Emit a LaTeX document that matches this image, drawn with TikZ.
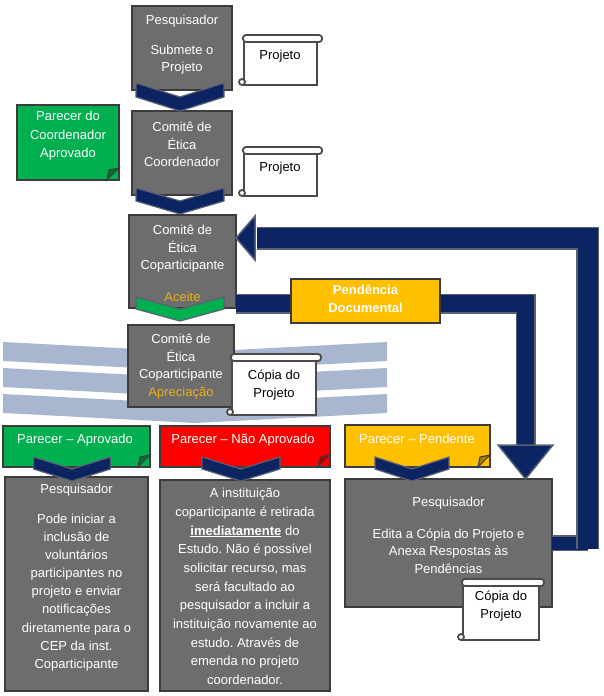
\documentclass[tikz,border=0pt]{standalone}
\usepackage{fontspec}
\setmainfont{Liberation Sans}
\usetikzlibrary{shapes.misc,calc}
\frenchspacing

\definecolor{boxgray}{HTML}{6D6D6D}
\definecolor{boxline}{HTML}{3C3C3C}
\definecolor{navy}{HTML}{0C2461}
\definecolor{navyline}{HTML}{5A6173}
\definecolor{okgreen}{HTML}{00B050}
\definecolor{nogored}{HTML}{FF0000}
\definecolor{pendyellow}{HTML}{FFC000}
\definecolor{gold}{HTML}{E6B020}
\definecolor{band}{HTML}{A8B6CF}
\definecolor{scrollline}{HTML}{4A4A4A}

\tikzset{shaft/.style={draw=navy,line width=#1,preaction={draw=navyline,line width=#1+3pt}}}

\begin{document}
\begin{tikzpicture}[x=1pt,y=-1pt]
    \tikzstyle{stage}=[draw=boxline,fill=boxgray,line width=1.6pt,inner sep=0pt,outer sep=0pt];
    \tikzstyle{note}=[chamfered rectangle,chamfered rectangle corners=south east,chamfered rectangle sep=12pt,draw=boxline,line width=1.4pt,inner sep=0pt,outer sep=0pt];
    \tikzstyle{scroll}=[draw=scrollline,fill=white,line width=1.8pt,inner sep=0pt,outer sep=0pt];
    \tikzstyle{chev}=[draw=navyline,line width=1.2pt,line join=miter];
    \tikzstyle{head}=[fill=navy,draw=navyline,line width=1.5pt,line join=miter];
    \tikzstyle{txt}=[text=white,font=\fontsize{13}{17.5}\selectfont,align=center,inner sep=0pt];
    \tikzstyle{dark}=[text=black,font=\fontsize{13}{18}\selectfont,align=center,inner sep=0pt];

    \useasboundingbox (0,0) rectangle (603,696);

    % faixas de fundo
    \foreach \by in {342,368,394}{
        \fill[band] (3,\by) -- (195,\by+10) -- (387,\by) -- (387,\by+19) -- (195,\by+29) -- (3,\by+19) -- cycle;
    }

    % etapas
    \node[stage,minimum width=100pt,minimum height=84pt] (b1) at (182,48) {};
    \node[stage,minimum width=100pt,minimum height=84pt] (b2) at (182,153) {};
    \node[stage,minimum width=107pt,minimum height=93pt] (b3) at (182.5,261.5) {};
    \node[stage,minimum width=106pt,minimum height=82pt] (b4) at (181,366) {};
    \node[stage,minimum width=143pt,minimum height=214pt] (bl) at (76.5,584) {};
    \node[stage,minimum width=170pt,minimum height=211pt] (bm) at (245,585.5) {};
    \node[stage,minimum width=207pt,minimum height=128pt] (br) at (448.5,543) {};

    \foreach \cx/\cy/\w/\d/\col in {180/83/88/14/navy,180/188/88/13/navy,180/297/88/12/okgreen}{
        \filldraw[chev,fill=\col] (\cx-\w/2,\cy) -- (\cx,\cy+\d) -- (\cx+\w/2,\cy) -- (\cx+\w/2,\cy+\d) -- (\cx,\cy+2*\d) -- (\cx-\w/2,\cy+\d) -- cycle;
    }

    % retorno das pendencias
    \coordinate (rbot) at (587.5,549);
    \coordinate (rtop) at (587.5,238);
    \coordinate (lhead) at (257,238);
    \draw[shaft=13pt] (br.east) -- (br.east -| rtop);
    \draw[shaft=20pt] (rbot) -- (rtop) -- (lhead);
    \filldraw[head] (b3.east |- rtop) -- ++(19,-22) -- ++(0,44) -- cycle;

    \coordinate (ibar) at (525.5,303.5);
    \coordinate (dhead) at (525.5,445);
    \draw[shaft=17pt] (ibar -| b3.east) -- (ibar) -- (dhead);
    \filldraw[head] (dhead |- br.north) -- ++(-27.5,-34) -- ++(55,0) -- cycle;

    % pareceres
    \node[note,fill=okgreen,minimum width=102pt,minimum height=75pt] (n1) at (68,142.5) {};
    \node[note,fill=okgreen,minimum width=147pt,minimum height=41pt] (n2) at (76.5,446.5) {};
    \node[note,fill=nogored,minimum width=170pt,minimum height=41pt] (n3) at (245,446.5) {};
    \node[note,fill=pendyellow,minimum width=145pt,minimum height=42pt] (n4) at (417.5,446) {};
    \foreach \n/\col in {n1/okgreen,n2/okgreen,n3/nogored,n4/pendyellow}{
        \filldraw[fill=\col!65!black,draw=boxline,line width=1pt] ($(\n.east|-\n.south)+(-12,0)$) -- ($(\n.east|-\n.south)+(0,-12)$) -- ($(\n.east|-\n.south)+(-10,-10)$) -- cycle;
    }

    \foreach \cx/\cy/\w/\d/\col in {72/457/77/12/navy,241/457/78/12/navy,412/457/74/12/navy}{
        \filldraw[chev,fill=\col] (\cx-\w/2,\cy) -- (\cx,\cy+\d) -- (\cx+\w/2,\cy) -- (\cx+\w/2,\cy+\d) -- (\cx,\cy+2*\d) -- (\cx-\w/2,\cy+\d) -- cycle;
    }

    \node[draw=boxline,fill=pendyellow,line width=1.6pt,minimum width=149pt,minimum height=44pt,inner sep=0pt] (pend) at (365.5,301) {};

    % projetos
    \node[scroll,minimum width=73pt,minimum height=44pt] (s1) at (280.5,63) {};
    \node[scroll,minimum width=73pt,minimum height=43pt] (s2) at (280.5,174.5) {};
    \node[scroll,minimum width=84pt,minimum height=55pt] (s3) at (274,387.5) {};
    \node[scroll,minimum width=76pt,minimum height=55pt] (s4) at (501,612.5) {};
    \foreach \s in {s1,s2,s3,s4}{
        \draw[scroll,rounded corners=3pt] ($(\s.north west)+(-1,-6)$) rectangle ($(\s.north east)+(5,1)$);
        \draw[scroll] ($(\s.south west)+(-2,-3)$) circle (3pt);
    }

    % textos
    \node[txt] (t1a) at (182,21) {Pesquisador};
    \node[txt] (t1b) at (182,59.5) {Submete o\\Projeto};
    \node[txt] (t2) at (182,144.5) {Comitê de\\Ética\\Coordenador};
    \node[txt] (t3) at (182.5,249) {Comitê de\\Ética\\Coparticipante};
    \node[txt,text=gold] (t3b) at (182.5,297) {Aceite};
    \node[txt] (t4) at (181,366.5) {Comitê de\\Ética\\Coparticipante\\\textcolor{gold}{Apreciação}};

    \node[txt,font=\fontsize{13}{18.5}\selectfont] (tn1) at (68,136) {Parecer do\\Coordenador\\Aprovado};
    \node[txt] (tn2) at (75,440) {Parecer -- Aprovado};
    \node[txt] (tn3) at (243,440) {Parecer -- Não Aprovado};
    \node[txt] (tn4) at (417,439) {Parecer -- Pendente};
    \node[txt,font=\bfseries\fontsize{13}{18}\selectfont] (tp) at (365.5,299) {Pendência\\Documental};

    \node[txt] (tla) at (76.5,490) {Pesquisador};
    \node[txt,font=\fontsize{13}{18.1}\selectfont] (tlb) at (76.5,592.5) {Pode iniciar a\\inclusão de\\voluntários\\participantes no\\projeto e enviar\\notificações\\diretamente para o\\CEP da inst.\\Coparticipante};
    \node[txt,font=\fontsize{13}{18.7}\selectfont] (tm) at (245,586.5) {A instituição\\coparticipante é retirada\\\textbf{\underline{imediatamente}} do\\Estudo. Não é possível\\solicitar recurso, mas\\será facultado ao\\pesquisador a incluir a\\instituição novamente ao\\estudo. Através de\\emenda no projeto\\coordenador.};
    \node[txt] (tra) at (448.5,503) {Pesquisador};
    \node[txt] (trb) at (448.5,551) {Edita a Cópia do Projeto e\\Anexa Respostas às\\Pendências};

    \node[dark] (ts1) at (280,56) {Projeto};
    \node[dark] (ts2) at (280,168) {Projeto};
    \node[dark] (ts3) at (274,385) {Cópia do\\Projeto};
    \node[dark] (ts4) at (501,606) {Cópia do\\Projeto};

\end{tikzpicture}
\end{document}
